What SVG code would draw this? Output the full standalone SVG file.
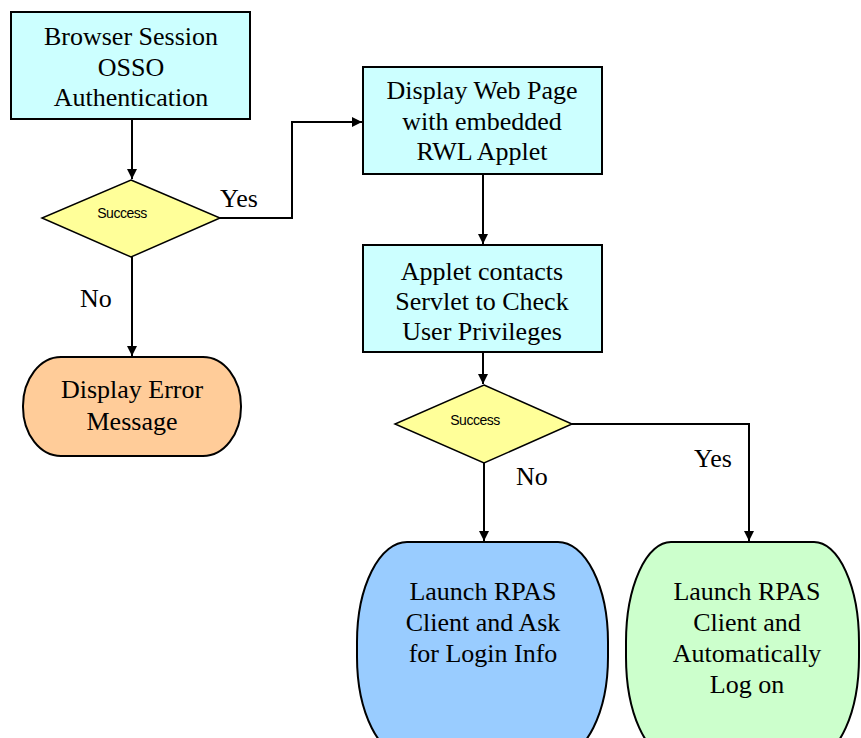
<svg xmlns="http://www.w3.org/2000/svg" width="861" height="738" viewBox="0 0 861 738">
<style>
.box{fill:#CCFFFF;stroke:#000;stroke-width:2}
.dia{fill:#FFFF99;stroke:#000;stroke-width:1.5}
.t{font-family:"Liberation Serif","Times New Roman",serif;font-size:26px;fill:#000;text-anchor:middle}
.lbl{font-family:"Liberation Serif","Times New Roman",serif;font-size:26px;fill:#000}
.s{font-family:"Liberation Sans",Arial,sans-serif;font-size:14px;fill:#000;text-anchor:middle;letter-spacing:-0.5px}
.c{fill:none;stroke:#000;stroke-width:2}
</style>
<defs>
<marker id="ah" viewBox="0 0 10 10" refX="10" refY="5" markerWidth="10" markerHeight="10" markerUnits="userSpaceOnUse" orient="auto">
<path d="M0,0 L10,5 L0,10 z" fill="#000"/>
</marker>
</defs>
<rect width="861" height="738" fill="#fff"/>
<g id="connectors">
<path class="c" d="M132,119 V179" marker-end="url(#ah)"/>
<path class="c" d="M220,218 H292 V122 H362" marker-end="url(#ah)"/>
<path class="c" d="M132,257 V356" marker-end="url(#ah)"/>
<path class="c" d="M483,174 V244" marker-end="url(#ah)"/>
<path class="c" d="M483,352 V384" marker-end="url(#ah)"/>
<path class="c" d="M484,463 V541" marker-end="url(#ah)"/>
<path class="c" d="M572,424 H749 V541" marker-end="url(#ah)"/>
<text class="lbl" x="220" y="207">Yes</text>
<text class="lbl" x="80" y="307">No</text>
<text class="lbl" x="516" y="485">No</text>
<text class="lbl" x="694" y="467">Yes</text>
</g>
<g id="n1">
<rect class="box" x="11" y="12" width="239" height="107"/>
<text class="t" x="131" y="45">Browser Session</text>
<text class="t" x="131" y="76">OSSO</text>
<text class="t" x="131" y="106">Authentication</text>
</g>
<g id="d1">
<polygon class="dia" points="131,180 220,218 131,257 42,218"/>
<text class="s" x="122" y="218">Success</text>
</g>
<g id="n2">
<rect class="box" x="363" y="67" width="239" height="107"/>
<text class="t" x="482" y="99">Display Web Page</text>
<text class="t" x="482" y="130">with embedded</text>
<text class="t" x="482" y="160">RWL Applet</text>
</g>
<g id="n3">
<rect class="box" x="363" y="245" width="239" height="107"/>
<text class="t" x="482" y="280">Applet contacts</text>
<text class="t" x="482" y="310">Servlet to Check</text>
<text class="t" x="482" y="340">User Privileges</text>
</g>
<g id="d2">
<polygon class="dia" points="484,385 572,424 484,463 395,424"/>
<text class="s" x="475" y="425">Success</text>
</g>
<g id="err">
<rect x="23" y="357" width="218" height="99" rx="38" ry="49" fill="#FFCC99" stroke="#000" stroke-width="2"/>
<text class="t" x="132" y="398">Display Error</text>
<text class="t" x="132" y="430">Message</text>
</g>
<g id="blue">
<rect x="357" y="542" width="251" height="215" rx="50" ry="100" fill="#99CCFF" stroke="#000" stroke-width="2"/>
<text class="t" x="483" y="600">Launch RPAS</text>
<text class="t" x="483" y="631">Client and Ask</text>
<text class="t" x="483" y="662">for Login Info</text>
</g>
<g id="green">
<rect x="626" y="542" width="233" height="215" rx="45" ry="100" fill="#CCFFCC" stroke="#000" stroke-width="2"/>
<text class="t" x="747" y="600">Launch RPAS</text>
<text class="t" x="747" y="631">Client and</text>
<text class="t" x="747" y="662">Automatically</text>
<text class="t" x="747" y="693">Log on</text>
</g>
</svg>
